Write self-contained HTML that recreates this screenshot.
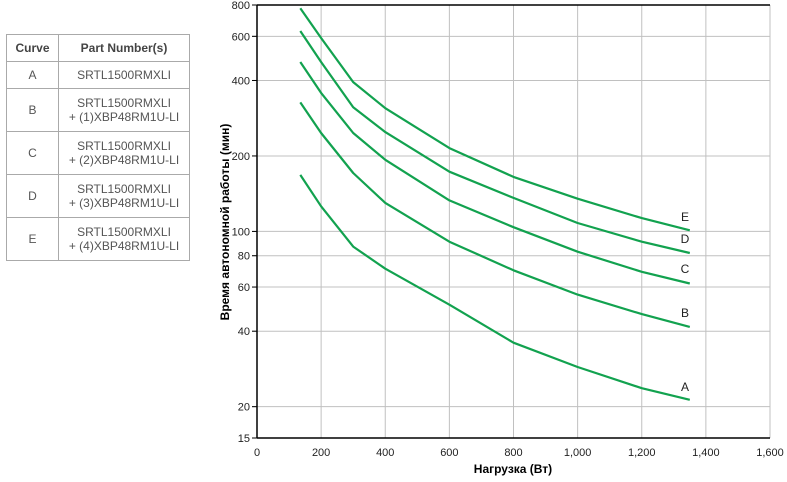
<!DOCTYPE html>
<html><head><meta charset="utf-8"><style>
body{margin:0;background:#fff;font-family:"Liberation Sans",Arial,sans-serif;}
table{position:absolute;left:6px;top:34px;border-collapse:collapse;font-size:12px;color:#555;}
td,th{border:1px solid #aaa;text-align:center;padding:0;}
th{height:26px;font-weight:bold;color:#444;}
</style></head><body>
<table>
<tr><th style="width:51px">Curve</th><th style="width:130px">Part Number(s)</th></tr>
<tr style="height:27px"><td>A</td><td>SRTL1500RMXLI</td></tr>
<tr style="height:43px"><td>B</td><td>SRTL1500RMXLI<br>+ (1)XBP48RM1U-LI</td></tr>
<tr style="height:43px"><td>C</td><td>SRTL1500RMXLI<br>+ (2)XBP48RM1U-LI</td></tr>
<tr style="height:43px"><td>D</td><td>SRTL1500RMXLI<br>+ (3)XBP48RM1U-LI</td></tr>
<tr style="height:43px"><td>E</td><td>SRTL1500RMXLI<br>+ (4)XBP48RM1U-LI</td></tr>
</table>
<svg id="chart" width="787" height="482" style="position:absolute;left:0;top:0"></svg>
<script>
const watts=[135,200,300,400,600,800,1000,1200,1350];
const curveNames=["A","B","C","D","E"];
const serA=[168,126,87,71,51,36,28.8,23.7,21.3];
const serB=[327,247,171,130,91,70,56,46.8,41.6];
const serC=[474,357,247,193,133,104,83,69,62];
const serD=[630,474,313,249,173,136,108,91,82];
const serE=[777,591,394,310,215,165,135,113,101];
const xTicks=[0,200,400,600,800,1000,1200,1400,1600];
const yTicks=[15,20,40,60,80,100,200,400,600,800];
const labelOffsets=[386,312,268,238,216];
const NS="http://www.w3.org/2000/svg";
const svgEl=document.getElementById('chart');
const X0=257,X1=770,Y0=438,Y1=5;
const xs=v=>X0+(v-0)/(1600)*(X1-X0);
const ys=v=>Y1+Math.log10(800/v)/Math.log10(800/15)*(Y0-Y1);
function mk(t,a){const e=document.createElementNS(NS,t);for(const k in a)e.setAttribute(k,a[k]);svgEl.appendChild(e);return e;}
xTicks.forEach(t=>{
 const l=mk('line',{x1:xs(t),x2:xs(t),y1:Y1,y2:Y0,stroke:'#c0c0c0','stroke-width':1});
 
 
 const tx=mk('text',{x:xs(t),y:456,'text-anchor':'middle','font-size':11,fill:'#222'});
 tx.textContent=t.toLocaleString('en-US');
 
 
});
yTicks.forEach(t=>{
 const l=mk('line',{x1:X0-5,x2:X1,y1:ys(t),y2:ys(t),stroke:'#c0c0c0','stroke-width':1});
 
 
 const tk=mk('line',{x1:X0-5,x2:X0,y1:ys(t),y2:ys(t),stroke:'#000'});
 
 
 const tx=mk('text',{x:250,y:ys(t)+4,'text-anchor':'end','font-size':11,fill:'#222'});
 tx.textContent=t;
 
 
});
const yAxisLine=mk('line',{x1:X0,x2:X0,y1:Y1,y2:Y0,stroke:'#000','stroke-width':1.5});


const xAxisLine=mk('line',{x1:X0,x2:X1,y1:Y0,y2:Y0,stroke:'#000','stroke-width':1.5});


const topBorder=mk('line',{x1:X0,x2:X1,y1:Y1,y2:Y1,stroke:'#000','stroke-width':1.5});


[serA,serB,serC,serD,serE].forEach((s,i)=>{
 const d=s.map((v,j)=>(j?'L':'M')+xs(watts[j]).toFixed(1)+','+ys(v).toFixed(1)).join(' ');
 const p=mk('path',{d:d,fill:'none',stroke:'#12a24f','stroke-width':2.2,'stroke-linejoin':'round'});
 
 
 const t=mk('text',{x:685,y:labelOffsets[i]+5,'text-anchor':'middle','font-size':12,fill:'#222'});
 t.textContent=curveNames[i];
 
 
});
const xt=mk('text',{x:513,y:473,'text-anchor':'middle','font-size':12,'font-weight':'bold',fill:'#000'});
xt.textContent='Нагрузка (Вт)';


const yt=mk('text',{x:0,y:0,'text-anchor':'middle','font-size':12,'font-weight':'bold',fill:'#000',transform:'translate(229,222) rotate(-90)'});
yt.textContent='Время автономной работы (мин)';


</script>
</body></html>
